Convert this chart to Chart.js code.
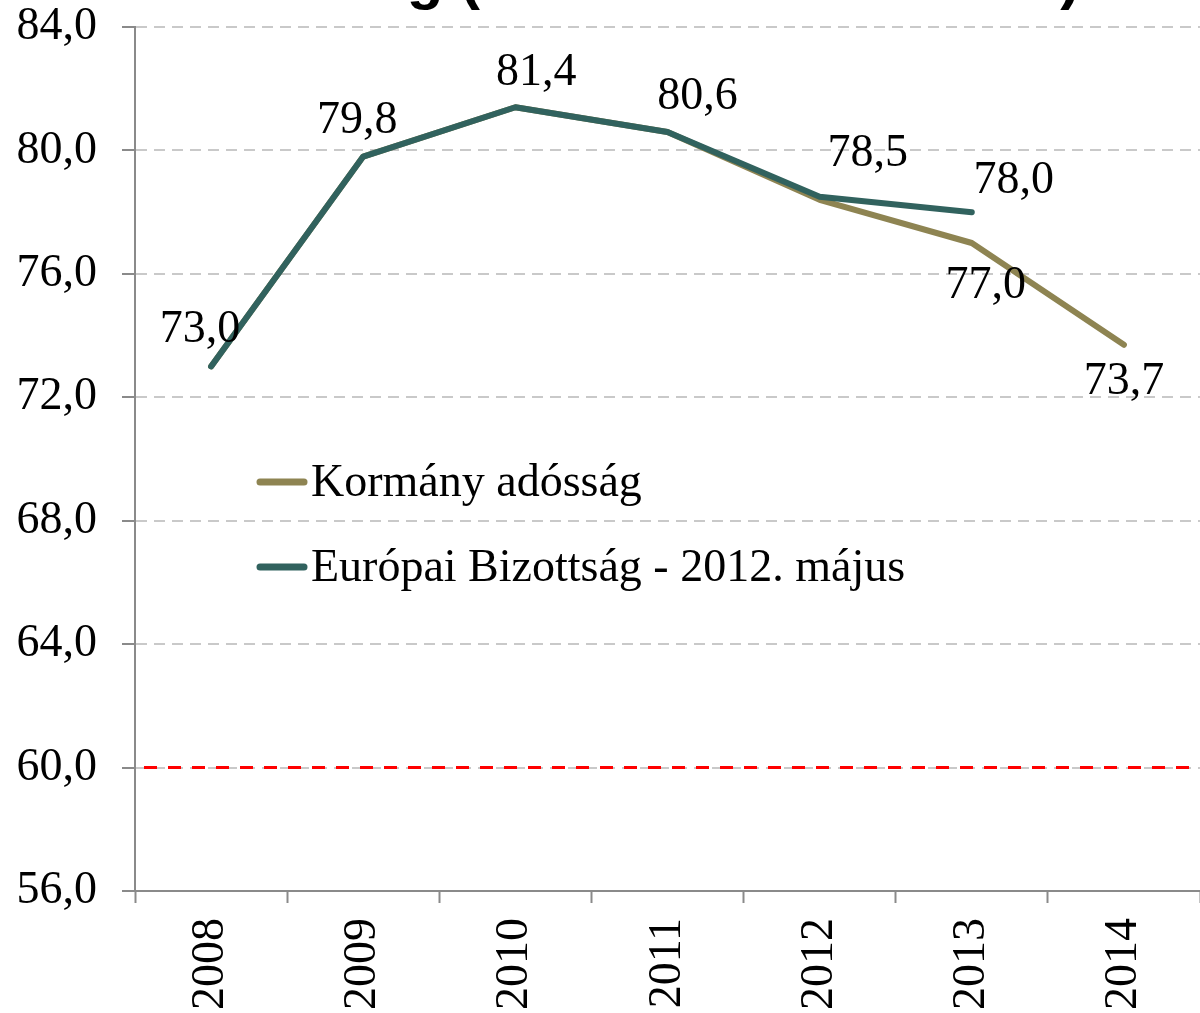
<!DOCTYPE html>
<html>
<head>
<meta charset="utf-8">
<title>Államadósság</title>
<script src="https://cdn.jsdelivr.net/npm/chart.js@4.4.1/dist/chart.umd.min.js"></script>
<style>
    html, body { margin: 0; padding: 0; background: #ffffff; }
    #debtChart { display: block; }
</style>
</head>
<body>
<canvas id="debtChart" width="1200" height="1013"></canvas>
<script>
// chart data
const years = ['2008', '2009', '2010', '2011', '2012', '2013', '2014'];
const kormanyAdossag = [73.0, 79.8, 81.4, 80.6, 78.4, 77.0, 73.7];
const europaiBizottsag = [73.0, 79.8, 81.4, 80.6, 78.5, 78.0, null];
const seriesNames = ['Kormány adósság', 'Európai Bizottság - 2012. május'];
const yTicks = [56, 60, 64, 68, 72, 76, 80, 84];
const maastrichtLimit = 60;
const titleText = 'Államadósság (a GDP százalékában)';

// which points get a value label, and where it sits relative to the point
const kormanyLabelled = [false, false, false, false, false, true, true];
const kormanyLabelOffsets = [null, null, null, null, null, [14, 43], [0, 37]];
const bizottsagLabelled = [true, true, true, true, true, true, false];
const bizottsagLabelOffsets = [[-11, -37], [-6, -36], [21, -34], [30, -35], [48, -43], [42, -31], null];

const serifFont = '"Liberation Serif", "Times New Roman", serif';
const fontSize = 46;
const oliveColor = '#8e8452';
const tealColor = '#31625e';
const axisGray = '#8a8a8a';
const gridGray = '#c9c9c9';

function formatHu(v) {
    return Number(v).toFixed(1).replace('.', ',');
}

const refLinePlugin = {
    id: 'refLine',
    beforeDatasetsDraw(chart) {
        const ctx = chart.ctx;
        const area = chart.chartArea;
        const y = chart.scales.y.getPixelForValue(maastrichtLimit);
        ctx.save();
        ctx.strokeStyle = '#ff0000';
        ctx.lineWidth = 3;
        ctx.setLineDash([13, 11]);
        ctx.beginPath();
        ctx.moveTo(area.left + 9, y);
        ctx.lineTo(area.right, y);
        ctx.stroke();
        ctx.restore();
    }
};

const valueLabelPlugin = {
    id: 'valueLabels',
    afterDatasetsDraw(chart) {
        const ctx = chart.ctx;
        const specs = [
            { index: 0, show: kormanyLabelled, offsets: kormanyLabelOffsets },
            { index: 1, show: bizottsagLabelled, offsets: bizottsagLabelOffsets }
        ];
        ctx.save();
        ctx.font = fontSize + 'px ' + serifFont;
        ctx.fillStyle = '#000000';
        ctx.textAlign = 'center';
        ctx.textBaseline = 'middle';
        specs.forEach(spec => {
            const meta = chart.getDatasetMeta(spec.index);
            const values = chart.data.datasets[spec.index].data;
            meta.data.forEach((pt, i) => {
                if (!spec.show[i] || values[i] == null) return;
                const off = spec.offsets[i];
                ctx.fillText(formatHu(values[i]), pt.x + off[0], pt.y + off[1]);
            });
        });
        ctx.restore();
    }
};

const insideLegendPlugin = {
    id: 'insideLegend',
    afterDraw(chart) {
        const ctx = chart.ctx;
        const area = chart.chartArea;
        const x0 = area.left + 125;
        const rows = [area.top + 455, area.top + 540];
        ctx.save();
        ctx.font = fontSize + 'px ' + serifFont;
        ctx.textAlign = 'left';
        ctx.textBaseline = 'middle';
        chart.data.datasets.forEach((ds, i) => {
            const y = rows[i];
            ctx.strokeStyle = ds.borderColor;
            ctx.lineWidth = 7;
            ctx.lineCap = 'round';
            ctx.beginPath();
            ctx.moveTo(x0, y);
            ctx.lineTo(x0 + 44, y);
            ctx.stroke();
            ctx.fillStyle = '#000000';
            ctx.fillText(ds.label, x0 + 51, y + 2);
        });
        ctx.restore();
    }
};

// title is mostly cut off at the top edge, only descenders show
const topTitlePlugin = {
    id: 'topTitle',
    afterDraw(chart) {
        const ctx = chart.ctx;
        ctx.save();
        ctx.font = 'bold 60px "Liberation Sans", Arial, sans-serif';
        ctx.fillStyle = '#000000';
        ctx.textBaseline = 'alphabetic';
        ctx.textAlign = 'left';
        const prefix = titleText.slice(0, titleText.indexOf('('));
        const x = 460 - ctx.measureText(prefix).width;
        ctx.fillText(titleText, x, -2);
        ctx.restore();
    }
};

const config = {
    type: 'line',
    data: {
        labels: years,
        datasets: [
            {
                label: seriesNames[0],
                data: kormanyAdossag,
                borderColor: oliveColor,
                backgroundColor: oliveColor,
                borderWidth: 6,
                borderCapStyle: 'round',
                borderJoinStyle: 'round',
                pointRadius: 0,
                tension: 0,
                order: 1
            },
            {
                label: seriesNames[1],
                data: europaiBizottsag,
                borderColor: tealColor,
                backgroundColor: tealColor,
                borderWidth: 6,
                borderCapStyle: 'round',
                borderJoinStyle: 'round',
                pointRadius: 0,
                tension: 0,
                spanGaps: false,
                order: 0
            }
        ]
    },
    options: {
        responsive: false,
        animation: false,
        devicePixelRatio: 1,
        layout: { padding: 0 },
        plugins: {
            legend: { display: false },
            title: { display: false },
            tooltip: { enabled: false }
        },
        scales: {
            x: {
                offset: true,
                afterFit(scale) { scale.height = 122; },
                grid: {
                    offset: true,
                    drawOnChartArea: false,
                    drawTicks: true,
                    tickLength: 12,
                    tickColor: axisGray,
                    tickWidth: 2
                },
                border: { display: true, color: axisGray, width: 2 },
                ticks: {
                    autoSkip: false,
                    minRotation: 90,
                    maxRotation: 90,
                    padding: 15,
                    color: '#000000',
                    font: { family: serifFont, size: fontSize }
                }
            },
            y: {
                min: 56,
                max: 84,
                afterFit(scale) {
                    scale.width = 135;
                    // tick padding would otherwise be added to the top gap
                    scale.paddingTop = 27;
                    scale.paddingBottom = 0;
                },
                afterBuildTicks(scale) {
                    scale.ticks = yTicks.map(v => ({ value: v }));
                },
                grid: {
                    color: ctx => (ctx.tick && ctx.tick.value === 56) ? 'rgba(0,0,0,0)' : gridGray,
                    lineWidth: 2,
                    tickLength: 13,
                    tickColor: axisGray,
                    tickWidth: 2
                },
                border: { display: true, color: axisGray, width: 2, dash: [11, 7] },
                ticks: {
                    padding: 25,
                    color: '#000000',
                    font: { family: serifFont, size: fontSize },
                    callback: v => formatHu(v)
                }
            }
        }
    },
    plugins: [refLinePlugin, valueLabelPlugin, insideLegendPlugin, topTitlePlugin]
};

try {
    new Chart(document.getElementById('debtChart').getContext('2d'), config);
} catch (err) {
    console.error('debt chart error', err);
}
</script>
</body>
</html>
